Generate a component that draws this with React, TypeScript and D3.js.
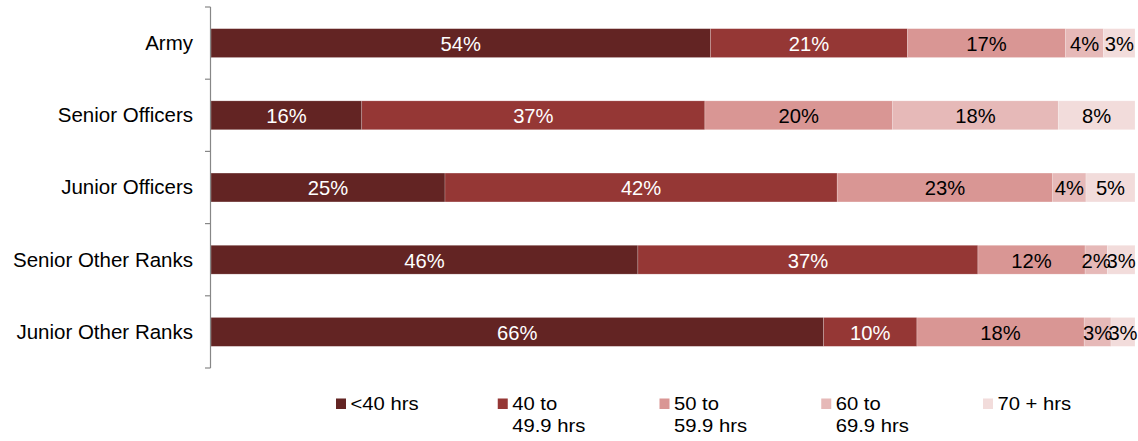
import React from "react";
import * as d3 from "d3";

const categories = ["Army", "Senior Officers", "Junior Officers", "Senior Other Ranks", "Junior Other Ranks"];
const seriesNames = ["<40 hrs", "40 to 49.9 hrs", "50 to 59.9 hrs", "60 to 69.9 hrs", "70 + hrs"];
const legendLines = [["<40 hrs"], ["40 to", "49.9 hrs"], ["50 to", "59.9 hrs"], ["60 to", "69.9 hrs"], ["70 + hrs"]];
const under40 = [54.0, 16.3, 25.3, 46.2, 66.3];
const from40 = [21.3, 37.1, 42.4, 36.8, 10.1];
const from50 = [17.1, 20.3, 23.3, 11.6, 18.1];
const from60 = [4.1, 17.9, 3.6, 2.4, 2.9];
const over70 = [3.4, 8.3, 5.3, 3.0, 2.6];
const colors = ["#632423", "#953735", "#D99694", "#E6B9B8", "#F2DCDB"];
const labelColors = ["#ffffff", "#ffffff", "#000000", "#000000", "#000000"];

const seriesValues = [under40, from40, from50, from60, over70];

export default function App() {
  const W = 1138, H = 441;
  const y = d3.scaleBand<string>().domain(categories).range([7, 368]).paddingInner(0.6).paddingOuter(0.3);
  const x = d3.scaleLinear().domain([0, 100]).range([211, 1135]);
  const rows = categories.map((c, i) => {
    const vals = seriesValues.map((s) => s[i]);
    const sum = vals.reduce((a, b) => a + b, 0);
    let acc = 0;
    return vals.map((v, k) => {
      const x0 = (acc / sum) * 100;
      acc += v;
      const x1 = (acc / sum) * 100;
      return { c, k, v, x0, x1 };
    });
  });
  const step = y.step();
  const tickYs = d3.range(categories.length + 1).map((i) => 7 + i * step);
  const fmt = (v: number) => `${Math.round(v)}%`;
  const legendX = d3.scalePoint<string>().domain(seriesNames).range([336, 983]);
  const font = "'Liberation Sans', Arial, sans-serif";

  return (
    <div style={{ position: "fixed", left: 0, top: 0 }}>
      <svg width={W} height={H} style={{ display: "block", background: "#fff" }}>
        <g>
          {rows.map((segs) =>
            segs.map((s) => (
              <rect
                key={s.c + s.k}
                x={x(s.x0)}
                y={y(s.c)}
                width={x(s.x1) - x(s.x0)}
                height={y.bandwidth()}
                fill={colors[s.k]}
                stroke="#ffffff"
                strokeOpacity={0.35}
                strokeWidth={0.6}
              />
            ))
          )}
          {rows.map((segs) =>
            segs.map((s) => (
              <text
                key={"t" + s.c + s.k}
                x={(x(s.x0) + x(s.x1)) / 2}
                y={(y(s.c) as number) + y.bandwidth() / 2 + 7.8}
                textAnchor="middle"
                fontFamily={font}
                fontSize={20.2}
                fill={labelColors[s.k]}
              >
                {fmt(s.v)}
              </text>
            ))
          )}
        </g>
        <g stroke="#878787" strokeWidth={1.2}>
          <line x1={210.5} x2={210.5} y1={tickYs[0]} y2={tickYs[tickYs.length - 1]} />
          {tickYs.map((t, i) => (
            <line key={i} x1={205} x2={210.5} y1={t} y2={t} />
          ))}
        </g>
        <g>
          {categories.map((c) => (
            <text
              key={c}
              x={193}
              y={(y(c) as number) + y.bandwidth() / 2 + 6.8}
              textAnchor="end"
              fontFamily={font}
              fontSize={20.5}
              fill="#000"
            >
              {c}
            </text>
          ))}
        </g>
        <g>
          {seriesNames.map((n, k) => {
            const lx = legendX(n) as number;
            return (
              <g key={n}>
                <rect x={lx} y={398.5} width={10} height={10.5} fill={colors[k]} />
                {legendLines[k].map((line, j) => (
                  <text
                    key={j}
                    transform={`translate(${lx + 14.5},${410.3 + j * 21.3}) scale(1.15,1)`}
                    fontFamily={font}
                    fontSize={17.6}
                    fill="#000"
                  >
                    {line}
                  </text>
                ))}
              </g>
            );
          })}
        </g>
      </svg>
    </div>
  );
}
